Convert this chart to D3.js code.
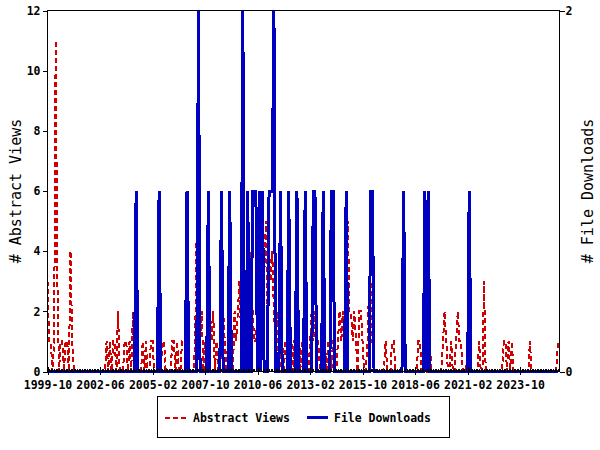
<!DOCTYPE html>
<html><head><meta charset="utf-8">
<script src="https://cdn.jsdelivr.net/npm/d3@7/dist/d3.min.js"></script>
<style>body{margin:0;background:#fff}svg{display:block}</style>
</head><body><svg id="c" width="600" height="450"></svg>
<script>
// ---- data (monthly, starting 1999-10) ----
const startMonth = [1999, 10];
const endMonth = [2025, 10];
const tickLabels = ["1999-10","2002-06","2005-02","2007-10","2010-06","2013-02","2015-10","2018-06","2021-02","2023-10"];
const leftTicks = [0,2,4,6,8,10,12];
const rightTicks = [0,2];
const seriesNames = ["Abstract Views","File Downloads"];
const abstractViews = [
  3,1,1,0,1,11,3,0,1,1,0,1,
  1,0,4,1,0,0,0,0,0,0,0,0,
  0,0,0,0,0,0,0,0,0,0,0,0,
  1,0,1,0,1,1,0,2,0,0,0,1,
  1,0,1,0,2,0,0,0,0,0,1,0,
  1,0,0,1,1,0,0,0,1,0,1,1,
  0,0,0,0,1,1,0,1,0,0,1,1,
  1,1,0,0,0,0,1,5,1,1,2,0,
  1,0,1,2,1,2,0,1,0,0,1,2,
  1,0,1,1,1,0,2,1,2,3,1,3,
  2,1,1,3,4,2,1,1,2,0,1,2,
  3,5,2,4,3,4,2,1,2,0,0,1,
  0,1,1,0,1,1,0,2,1,2,0,1,
  1,0,0,0,1,2,1,2,1,1,0,0,
  0,1,0,1,1,0,1,1,0,1,2,1,
  2,1,3,5,2,2,1,2,1,0,2,2,
  1,0,0,1,3,3,1,0,0,0,0,0,
  0,0,1,0,0,0,1,1,0,0,0,0,
  0,1,0,0,0,0,0,0,0,0,1,1,
  0,0,1,0,0,1,0,0,0,0,0,0,
  0,1,2,1,0,0,1,0,0,1,2,1,
  1,0,0,0,1,0,0,0,0,0,0,1,
  0,0,3,0,0,0,0,0,0,0,0,0,
  0,0,1,1,0,1,0,1,0,0,0,0,
  0,0,0,0,0,0,1,0,0,0,0,0,
  0,0,0,0,0,0,0,0,0,0,0,1
];
const fileDownloads = [
  0,0,0,0,0,0,0,0,0,0,0,0,
  0,0,0,0,0,0,0,0,0,0,0,0,
  0,0,0,0,0,0,0,0,0,0,0,0,
  0,0,0,0,0,0,0,0,0,0,0,0,
  0,0,0,0,0,0,1,0,0,0,0,0,
  0,0,0,0,0,0,0,0,1,0,0,0,
  0,0,0,0,0,0,0,0,0,0,0,0,
  0,1,0,0,0,0,0,0,2,0,0,0,
  0,0,1,0,0,0,0,0,0,0,1,0,
  0,0,0,1,0,0,0,0,0,0,0,2,
  0,0,1,0,0,1,1,1,0,1,0,1,
  0,0,0,1,1,1,2,0,0,0,1,0,
  0,0,0,1,0,0,0,0,1,0,0,0,
  0,1,0,0,0,0,1,1,0,0,0,0,
  1,0,0,0,0,1,1,0,0,0,0,0,
  0,0,1,0,0,0,0,0,0,0,0,0,
  0,0,0,0,0,1,1,0,0,0,0,0,
  0,0,0,0,0,0,0,0,0,0,0,0,
  0,1,0,0,0,0,0,0,0,0,0,0,
  0,0,1,0,1,0,0,0,0,0,0,0,
  0,0,0,0,0,0,0,0,0,0,0,0,
  0,0,0,0,0,1,0,0,0,0,0,0,
  0,0,0,0,0,0,0,0,0,0,0,0,
  0,0,0,0,0,0,0,0,0,0,0,0,
  0,0,0,0,0,0,0,0,0,0,0,0,
  0,0,0,0,0,0,0,0,0,0,0,0
];

// ---- layout ----
const L = 47.5, R = 559.5, T = 10.5, B = 371.5;
const RED = "#d00000", BLUE = "#0000c0";
const FONT = "'DejaVu Sans Mono', monospace";
const TICKFS = 11.5;

const svg = d3.select("#c");
const start = new Date(startMonth[0], startMonth[1]-1, 1);
const end = new Date(endMonth[0], endMonth[1]-1, 1);
const dates = abstractViews.map((_, i) => d3.timeMonth.offset(start, i));

const x = d3.scaleTime().domain([start, end]).range([L, R]);
const yL = d3.scaleLinear().domain([0, 12]).range([B, T]);
const yR = d3.scaleLinear().domain([0, 2]).range([B, T]);
const parse = d3.timeParse("%Y-%m");
const tickDates = tickLabels.map(parse);

// lines
const lineL = d3.line().x((d, i) => x(dates[i])).y(d => yL(d));
const lineR = d3.line().x((d, i) => x(dates[i])).y(d => yR(d));

svg.append("path").datum(abstractViews).attr("d", lineL)
  .attr("fill", "none").attr("stroke", RED).attr("stroke-width", 2)
  .attr("stroke-dasharray", "5,3").attr("shape-rendering", "crispEdges");
svg.append("path").datum(fileDownloads).attr("d", lineR)
  .attr("fill", "none").attr("stroke", BLUE).attr("stroke-width", 3)
  .attr("shape-rendering", "crispEdges");

// frame
svg.append("rect").attr("x", L).attr("y", T).attr("width", R - L).attr("height", B - T)
  .attr("fill", "none").attr("stroke", "#000").attr("stroke-width", 1);

function styleAxis(g) {
  g.select(".domain").remove();
  g.selectAll("line").attr("stroke", "#000").attr("shape-rendering", "crispEdges");
  g.selectAll("text").attr("font-family", FONT).attr("font-weight", "bold")
    .attr("font-size", TICKFS).attr("fill", "#000");
}

// minor monthly ticks (inward)
const minor = svg.append("g").attr("transform", `translate(0,${B})`)
  .call(d3.axisTop(x).tickValues(dates).tickSize(3).tickFormat(""));
styleAxis(minor);

// major ticks crossing the axis + labels
const major = svg.append("g").attr("transform", `translate(0,${B})`)
  .call(d3.axisBottom(x).tickValues(tickDates).tickSize(3).tickPadding(6)
    .tickFormat(d3.timeFormat("%Y-%m")));
styleAxis(major);
const majorIn = svg.append("g").attr("transform", `translate(0,${B})`)
  .call(d3.axisTop(x).tickValues(tickDates).tickSize(5).tickFormat(""));
styleAxis(majorIn);

// left axis
const gl = svg.append("g").attr("transform", `translate(${L},0)`)
  .call(d3.axisLeft(yL).tickValues(leftTicks).tickSize(5).tickPadding(2)
    .tickFormat(d3.format("d")));
styleAxis(gl);

// right axis
const gr = svg.append("g").attr("transform", `translate(${R},0)`)
  .call(d3.axisRight(yR).tickValues(rightTicks).tickSize(5).tickPadding(1)
    .tickFormat(d3.format("d")));
styleAxis(gr);

// axis titles
const midY = (T + B) / 2;
svg.append("text").attr("transform", `translate(21,${midY}) rotate(-90)`)
  .attr("text-anchor", "middle").attr("font-family", FONT).attr("font-size", 15)
  .text("# " + seriesNames[0]);
svg.append("text").attr("transform", `translate(593,${midY}) rotate(-90)`)
  .attr("text-anchor", "middle").attr("font-family", FONT).attr("font-size", 15)
  .text("# " + seriesNames[1]);

// legend
const lg = svg.append("g");
lg.append("rect").attr("x", 157.5).attr("y", 396.5).attr("width", 292).attr("height", 41)
  .attr("fill", "#fff").attr("stroke", "#000");
const legendItems = [
  {name: seriesNames[0], color: RED, dash: "5,3", w: 2, x0: 165, tx: 193},
  {name: seriesNames[1], color: BLUE, dash: null, w: 3, x0: 307, tx: 334}
];
legendItems.forEach(it => {
  lg.append("line").attr("x1", it.x0).attr("x2", it.x0 + 21).attr("y1", 417.5).attr("y2", 417.5)
    .attr("stroke", it.color).attr("stroke-width", it.w)
    .attr("stroke-dasharray", it.dash).attr("shape-rendering", "crispEdges");
  lg.append("text").attr("x", it.tx).attr("y", 421.5).attr("font-family", FONT)
    .attr("font-weight", "bold").attr("font-size", TICKFS).text(it.name);
});
</script></body></html>
